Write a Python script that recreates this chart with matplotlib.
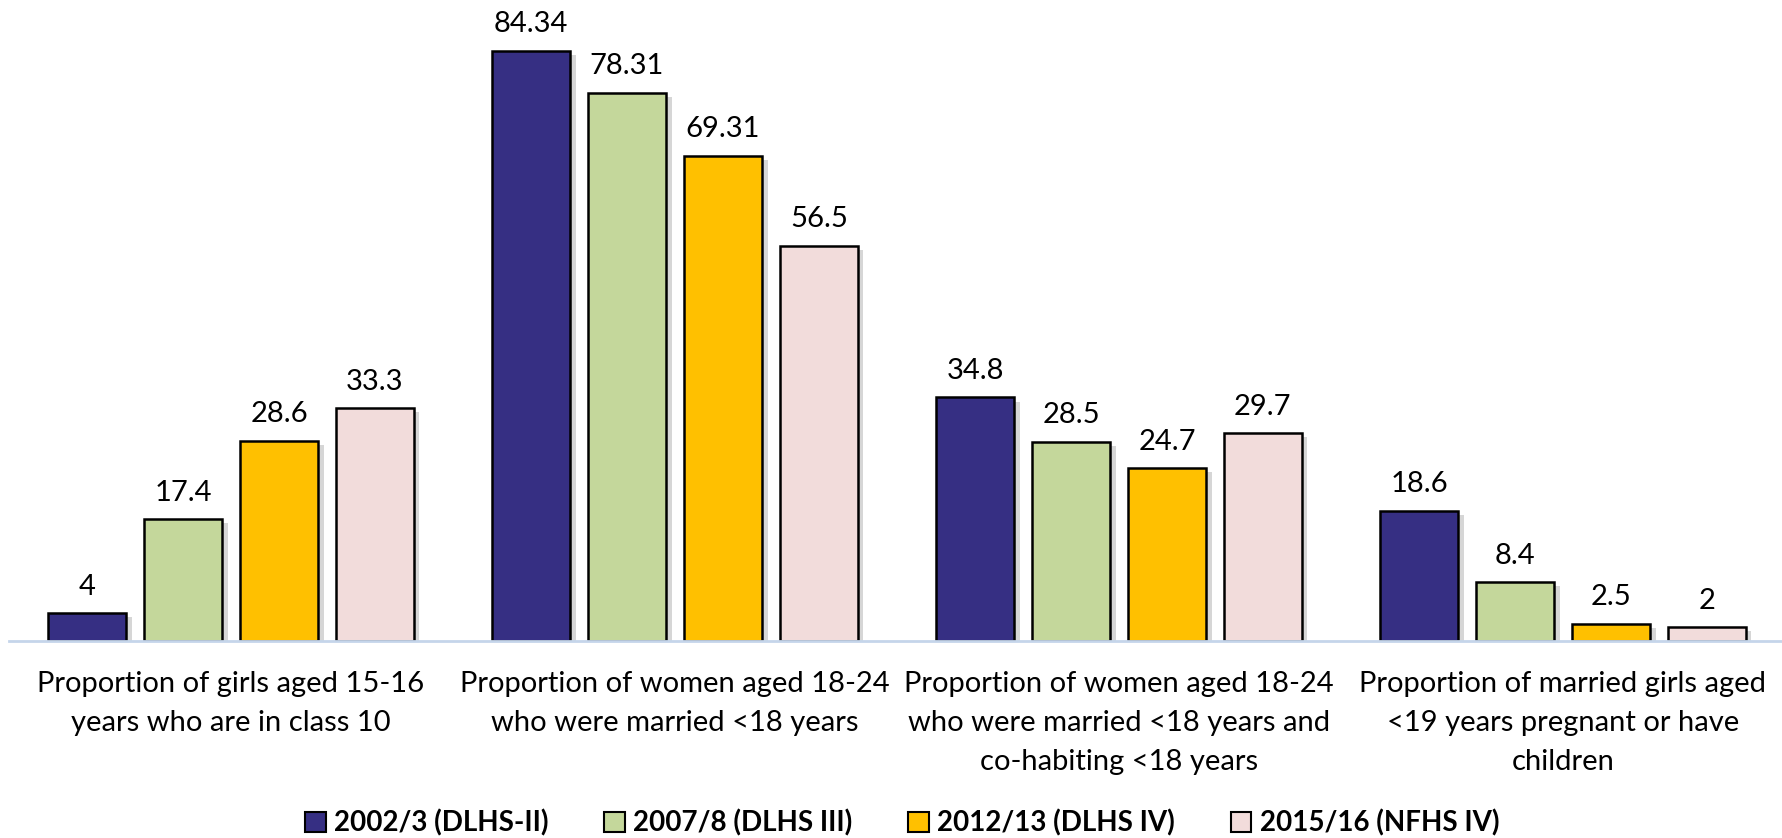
import numpy as np
import matplotlib
matplotlib.use("Agg")
import matplotlib.pyplot as plt
import matplotlib.patheffects as pe
from matplotlib.transforms import blended_transform_factory

plt.rcParams['font.family'] = ['Lato', 'DejaVu Sans']

# data
categories = [
    "Proportion of girls aged 15-16\nyears who are in class 10",
    "Proportion of women aged 18-24\nwho were married <18 years",
    "Proportion of women aged 18-24\nwho were married <18 years and\nco-habiting <18 years",
    "Proportion of married girls aged\n<19 years pregnant or have\nchildren",
]
series_names = ["2002/3 (DLHS-II)", "2007/8 (DLHS III)", "2012/13 (DLHS IV)", "2015/16 (NFHS IV)"]
v_2002 = [4, 84.34, 34.8, 18.6]
v_2007 = [17.4, 78.31, 28.5, 8.4]
v_2012 = [28.6, 69.31, 24.7, 2.5]
v_2015 = [33.3, 56.5, 29.7, 2]
colors = ["#362F83", "#C4D79B", "#FFC000", "#F2DCDB"]

fig = plt.figure(figsize=(17.83, 8.38), dpi=100)
ax = fig.add_axes([9 / 1783, 197 / 838, 1776 / 1783, 630 / 838])

x = np.arange(len(categories))
width = 0.176
step = 0.216
shadow = [pe.SimplePatchShadow(offset=(4, -3), shadow_rgbFace="0.55", alpha=0.35), pe.Normal()]
handles = []
for k, (vals, name, col) in enumerate(zip([v_2002, v_2007, v_2012, v_2015], series_names, colors)):
    pos = x + (k - 1.5) * step
    bars = ax.bar(pos, vals, width, color=col, edgecolor="black", linewidth=1.8, label=name, zorder=3)
    for b in bars:
        b.set_path_effects(shadow)
    handles.append(bars)
    for p, v in zip(pos, vals):
        ax.annotate(f"{v:g}", (p, v), xytext=(0, 19), textcoords="offset points",
                    ha="center", va="center", fontsize=21)

ax.set_xlim(-0.5, 3.5)
ax.set_ylim(0, 90)
for s in ["top", "right", "left"]:
    ax.spines[s].set_visible(False)
ax.spines["bottom"].set_color("#C5D5EA")
ax.spines["bottom"].set_linewidth(2)
ax.spines["bottom"].set_zorder(4)
ax.set_yticks([])
ax.set_xticks([])

trans = blended_transform_factory(ax.transData, ax.transAxes)
for i, lab in enumerate(categories):
    ax.text(i, -0.048, lab, transform=trans, ha="center", va="top", fontsize=21,
            linespacing=1.62)

leg = fig.legend(handles=handles, labels=series_names, loc="center", bbox_to_anchor=(902 / 1783, 1 - 823 / 838),
                 ncol=4, frameon=False, prop={"weight": "bold", "size": 20},
                 handlelength=0.75, handleheight=0.75, handletextpad=0.3, columnspacing=2.0)
for h in leg.legend_handles:
    h.set_path_effects([])
    h.set_linewidth(1.5)

fig.savefig("out.png", dpi=100)
